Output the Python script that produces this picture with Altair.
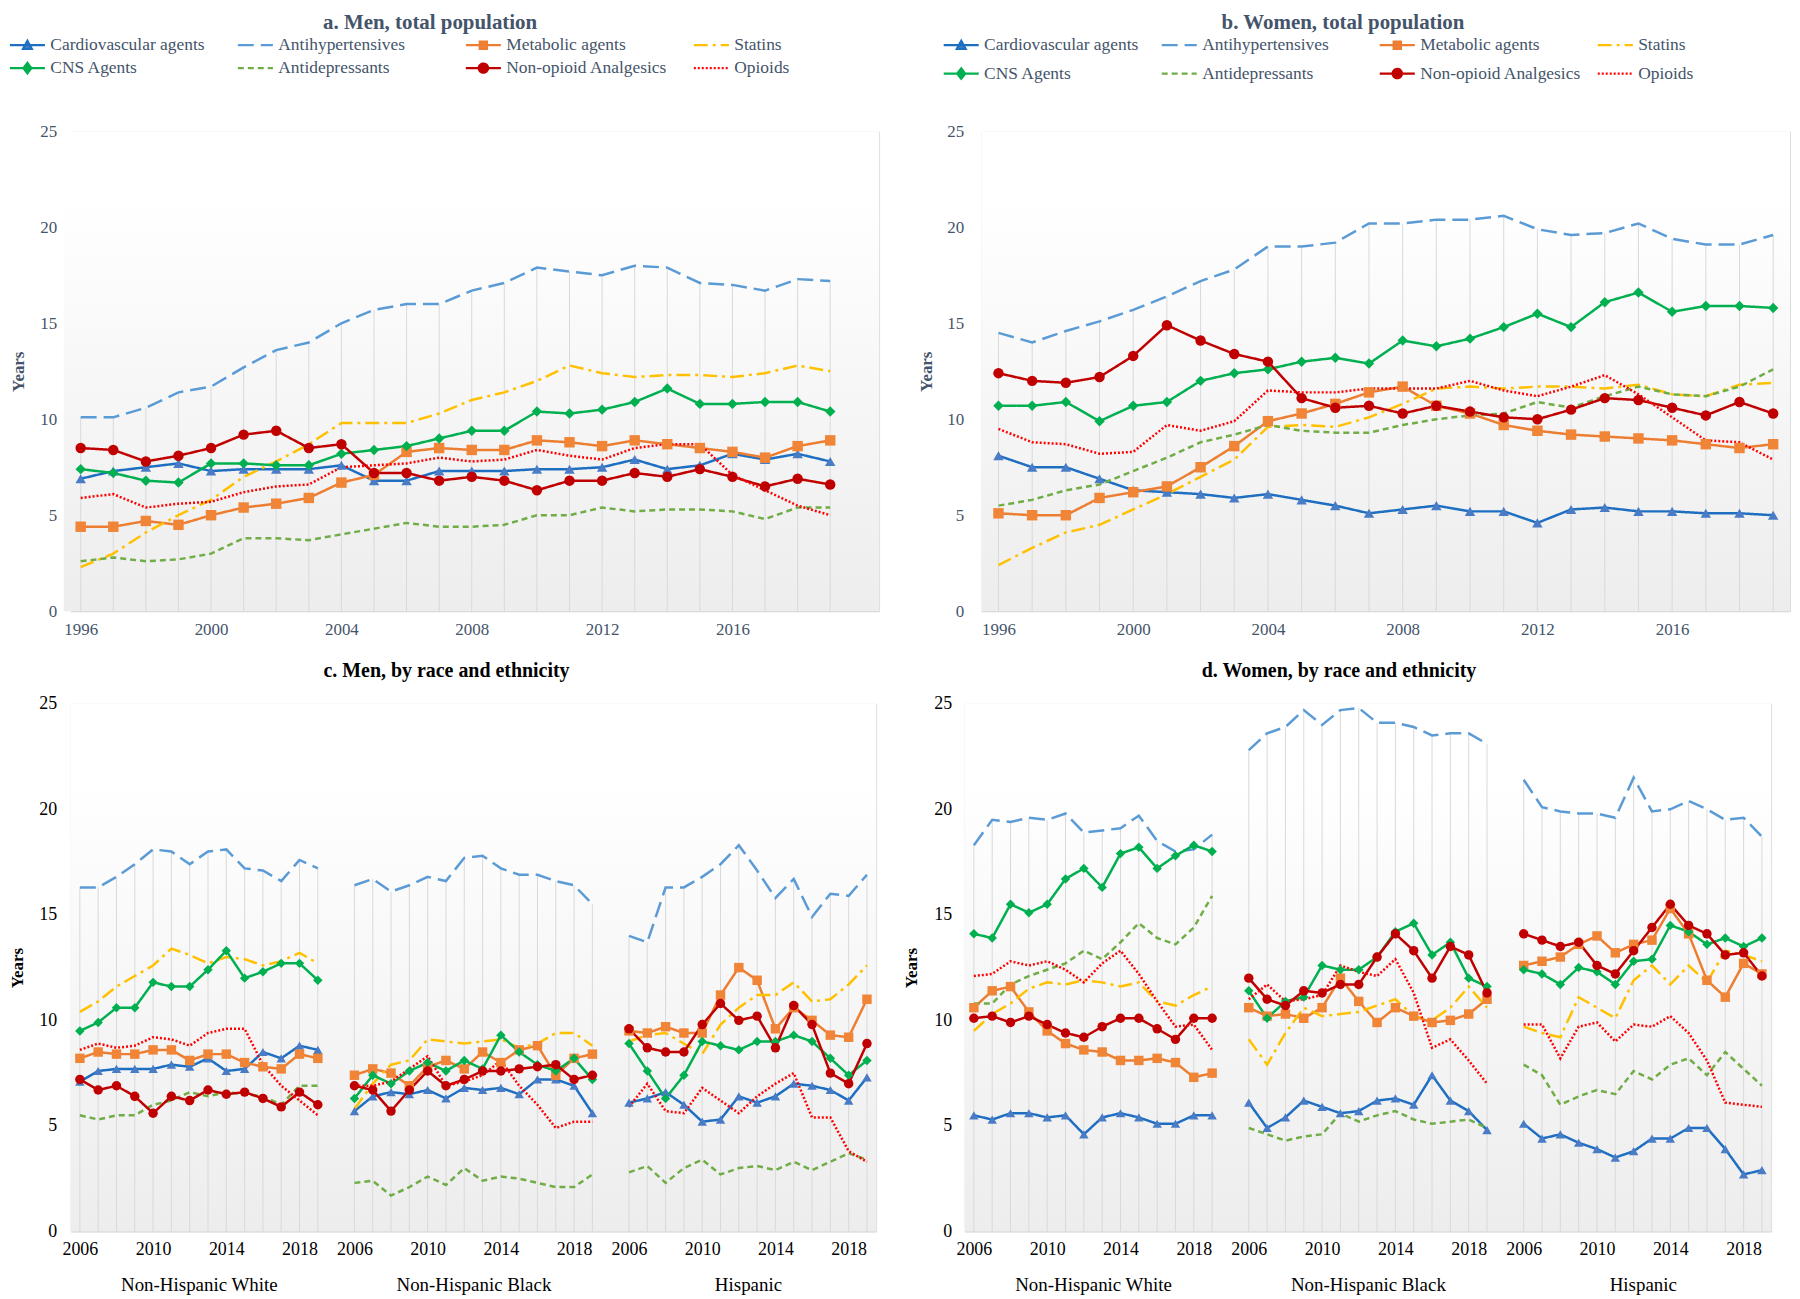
import altair as alt
import pandas as pd

FONT = "Liberation Serif"
TOP_TEXT = "#44546A"
BOTTOM_TEXT = "#000000"
DROP_COLOR = "#D9D9D9"

SERIES = ["Cardiovascular agents", "Antihypertensives", "Metabolic agents", "Statins",
          "CNS Agents", "Antidepressants", "Non-opioid Analgesics", "Opioids"]
LINE_COLORS = ["#1E6FC2", "#5B9BD5", "#ED7D31", "#FFC000", "#00B050", "#70AD47", "#C00000", "#FF0000"]
DASHES = [[1, 0], [16, 7], [1, 0], [14, 5, 3, 5], [1, 0], [6, 4], [1, 0], [2, 2]]
MARKER_SERIES = ["Cardiovascular agents", "Metabolic agents", "CNS Agents", "Non-opioid Analgesics"]
MARKER_SHAPES = ["triangle-up", "square", "diamond", "circle"]
MARKER_COLORS = ["#4A7CC6", "#F08538", "#00B050", "#C00000"]
LEGEND_LINE_PATH = "M-2.2,0H2.2"
LEGEND_MARKER_PATHS = [
    "M-0.55,0.45L0,-0.55L0.55,0.45Z",
    "M-0.45,-0.45H0.45V0.45H-0.45Z",
    "M0,-0.65L0.5,0L0,0.65L-0.5,0Z",
    "M-0.58,0A0.58,0.58 0 1,0 0.58,0A0.58,0.58 0 1,0 -0.58,0Z",
]

YEARS_TOTAL = list(range(1996, 2020))
YEARS_RACE = list(range(2006, 2020))
GROUPS = ["Non-Hispanic White", "Non-Hispanic Black", "Hispanic"]
X_TICKS_TOTAL = [1996, 2000, 2004, 2008, 2012, 2016]
X_TICKS_RACE = [2006, 2010, 2014, 2018]
Y_TICKS = [0, 5, 10, 15, 20, 25]

# ---------------- a. Men, total population (order = SERIES) ----------------
men_cv = [6.9, 7.3, 7.5, 7.7, 7.3, 7.4, 7.4, 7.4, 7.6, 6.8, 6.8, 7.3, 7.3, 7.3, 7.4, 7.4, 7.5, 7.9, 7.4, 7.6, 8.2, 7.9, 8.2, 7.8]
men_antihyp = [10.1, 10.1, 10.6, 11.4, 11.7, 12.7, 13.6, 14.0, 15.0, 15.7, 16.0, 16.0, 16.7, 17.1, 17.9, 17.7, 17.5, 18.0, 17.9, 17.1, 17.0, 16.7, 17.3, 17.2]
men_metab = [4.4, 4.4, 4.7, 4.5, 5.0, 5.4, 5.6, 5.9, 6.7, 7.1, 8.3, 8.5, 8.4, 8.4, 8.9, 8.8, 8.6, 8.9, 8.7, 8.5, 8.3, 8.0, 8.6, 8.9]
men_statins = [2.3, 3.0, 4.1, 5.0, 5.8, 7.0, 7.8, 8.7, 9.8, 9.8, 9.8, 10.3, 11.0, 11.4, 12.0, 12.8, 12.4, 12.2, 12.3, 12.3, 12.2, 12.4, 12.8, 12.5]
men_cns = [7.4, 7.2, 6.8, 6.7, 7.7, 7.7, 7.6, 7.6, 8.2, 8.4, 8.6, 9.0, 9.4, 9.4, 10.4, 10.3, 10.5, 10.9, 11.6, 10.8, 10.8, 10.9, 10.9, 10.4]
men_antidep = [2.6, 2.8, 2.6, 2.7, 3.0, 3.8, 3.8, 3.7, 4.0, 4.3, 4.6, 4.4, 4.4, 4.5, 5.0, 5.0, 5.4, 5.2, 5.3, 5.3, 5.2, 4.8, 5.4, 5.4]
men_nonop = [8.5, 8.4, 7.8, 8.1, 8.5, 9.2, 9.4, 8.5, 8.7, 7.2, 7.2, 6.8, 7.0, 6.8, 6.3, 6.8, 6.8, 7.2, 7.0, 7.4, 7.0, 6.5, 6.9, 6.6]
men_opioids = [5.9, 6.1, 5.4, 5.6, 5.7, 6.2, 6.5, 6.6, 7.5, 7.6, 7.7, 8.0, 7.8, 7.9, 8.4, 8.1, 7.9, 8.5, 8.7, 8.7, 7.1, 6.3, 5.5, 5.0]

# ---------------- b. Women, total population ----------------
wom_cv = [8.1, 7.5, 7.5, 6.9, 6.3, 6.2, 6.1, 5.9, 6.1, 5.8, 5.5, 5.1, 5.3, 5.5, 5.2, 5.2, 4.6, 5.3, 5.4, 5.2, 5.2, 5.1, 5.1, 5.0]
wom_antihyp = [14.5, 14.0, 14.6, 15.1, 15.7, 16.4, 17.2, 17.8, 19.0, 19.0, 19.2, 20.2, 20.2, 20.4, 20.4, 20.6, 19.9, 19.6, 19.7, 20.2, 19.4, 19.1, 19.1, 19.6]
wom_metab = [5.1, 5.0, 5.0, 5.9, 6.2, 6.5, 7.5, 8.6, 9.9, 10.3, 10.8, 11.4, 11.7, 10.7, 10.3, 9.7, 9.4, 9.2, 9.1, 9.0, 8.9, 8.7, 8.5, 8.7]
wom_statins = [2.4, 3.3, 4.1, 4.5, 5.3, 6.1, 7.0, 7.9, 9.6, 9.7, 9.6, 10.1, 10.8, 11.6, 11.7, 11.6, 11.7, 11.7, 11.6, 11.8, 11.3, 11.2, 11.8, 11.9]
wom_cns = [10.7, 10.7, 10.9, 9.9, 10.7, 10.9, 12.0, 12.4, 12.6, 13.0, 13.2, 12.9, 14.1, 13.8, 14.2, 14.8, 15.5, 14.8, 16.1, 16.6, 15.6, 15.9, 15.9, 15.8]
wom_antidep = [5.5, 5.8, 6.3, 6.6, 7.3, 8.0, 8.8, 9.2, 9.7, 9.4, 9.3, 9.3, 9.7, 10.0, 10.2, 10.3, 10.9, 10.6, 11.2, 11.7, 11.3, 11.2, 11.7, 12.6]
wom_nonop = [12.4, 12.0, 11.9, 12.2, 13.3, 14.9, 14.1, 13.4, 13.0, 11.1, 10.6, 10.7, 10.3, 10.7, 10.4, 10.1, 10.0, 10.5, 11.1, 11.0, 10.6, 10.2, 10.9, 10.3]
wom_opioids = [9.5, 8.8, 8.7, 8.2, 8.3, 9.7, 9.4, 9.9, 11.5, 11.4, 11.4, 11.6, 11.6, 11.6, 12.0, 11.5, 11.2, 11.7, 12.3, 11.3, 10.1, 8.9, 8.8, 7.9]

# ---------------- c. Men, by race and ethnicity (2006-2019) ----------------
men_nhw = [
    [7.1, 7.6, 7.7, 7.7, 7.7, 7.9, 7.8, 8.2, 7.6, 7.7, 8.5, 8.2, 8.8, 8.6],
    [16.3, 16.3, 16.8, 17.4, 18.1, 18.0, 17.4, 18.0, 18.1, 17.2, 17.1, 16.6, 17.6, 17.2],
    [8.2, 8.5, 8.4, 8.4, 8.6, 8.6, 8.1, 8.4, 8.4, 8.0, 7.8, 7.7, 8.4, 8.2],
    [10.4, 10.9, 11.6, 12.1, 12.6, 13.4, 13.1, 12.7, 13.0, 12.9, 12.6, 12.8, 13.2, 12.7],
    [9.5, 9.9, 10.6, 10.6, 11.8, 11.6, 11.6, 12.4, 13.3, 12.0, 12.3, 12.7, 12.7, 11.9],
    [5.5, 5.3, 5.5, 5.5, 6.0, 6.2, 6.6, 6.4, 6.6, 6.5, 6.4, 6.0, 6.9, 6.9],
    [7.2, 6.7, 6.9, 6.4, 5.6, 6.4, 6.2, 6.7, 6.5, 6.6, 6.3, 5.9, 6.6, 6.0],
    [8.6, 8.9, 8.7, 8.8, 9.2, 9.1, 8.8, 9.4, 9.6, 9.6, 7.9, 6.9, 6.2, 5.5],
]
men_nhb = [
    [5.7, 6.4, 6.6, 6.5, 6.7, 6.3, 6.8, 6.7, 6.8, 6.5, 7.2, 7.2, 6.9, 5.6],
    [16.4, 16.7, 16.1, 16.4, 16.8, 16.6, 17.7, 17.8, 17.2, 16.9, 16.9, 16.6, 16.4, 15.5],
    [7.4, 7.7, 7.5, 6.9, 7.8, 8.1, 7.7, 8.5, 8.0, 8.6, 8.8, 7.4, 8.2, 8.4],
    [5.8, 7.0, 7.9, 8.1, 9.1, 9.0, 8.9, 9.0, 9.1, 8.7, 8.9, 9.4, 9.4, 8.8],
    [6.3, 7.4, 7.0, 7.6, 8.0, 7.6, 8.1, 7.7, 9.3, 8.5, 7.9, 7.6, 8.2, 7.2],
    [2.3, 2.4, 1.7, 2.1, 2.6, 2.2, 3.0, 2.4, 2.6, 2.5, 2.3, 2.1, 2.1, 2.7],
    [6.9, 6.7, 5.7, 6.7, 7.6, 6.9, 7.2, 7.6, 7.6, 7.7, 7.8, 7.9, 7.2, 7.4],
    [6.9, 6.9, 7.1, 7.7, 8.3, 6.9, 7.1, 7.4, 8.1, 6.9, 6.0, 4.9, 5.2, 5.2],
]
men_hisp = [
    [6.1, 6.3, 6.6, 6.0, 5.2, 5.3, 6.4, 6.1, 6.4, 7.0, 6.9, 6.7, 6.2, 7.3],
    [14.0, 13.7, 16.3, 16.3, 16.8, 17.4, 18.3, 17.1, 15.8, 16.7, 14.9, 16.0, 15.9, 16.9],
    [9.5, 9.4, 9.7, 9.4, 9.4, 11.2, 12.5, 11.9, 9.6, 10.6, 10.0, 9.3, 9.2, 11.0],
    [9.0, 9.3, 9.4, 8.9, 8.4, 9.8, 10.6, 11.2, 11.2, 11.8, 10.9, 11.0, 11.7, 12.6],
    [8.9, 7.6, 6.3, 7.4, 9.0, 8.8, 8.6, 9.0, 9.0, 9.3, 9.0, 8.2, 7.4, 8.1],
    [2.8, 3.1, 2.3, 3.0, 3.4, 2.7, 3.0, 3.1, 2.9, 3.3, 2.9, 3.3, 3.7, 3.4],
    [9.6, 8.7, 8.5, 8.5, 9.8, 10.8, 10.0, 10.2, 8.7, 10.7, 9.8, 7.5, 7.0, 8.9],
    [5.9, 7.0, 5.7, 5.6, 6.8, 6.2, 5.6, 6.4, 7.0, 7.5, 5.4, 5.4, 3.8, 3.3],
]

# ---------------- d. Women, by race and ethnicity (2006-2019) ----------------
wom_nhw = [
    [5.5, 5.3, 5.6, 5.6, 5.4, 5.5, 4.6, 5.4, 5.6, 5.4, 5.1, 5.1, 5.5, 5.5],
    [18.3, 19.5, 19.4, 19.6, 19.5, 19.8, 18.9, 19.0, 19.1, 19.7, 18.5, 18.0, 18.1, 18.8],
    [10.6, 11.4, 11.6, 10.4, 9.5, 8.9, 8.6, 8.5, 8.1, 8.1, 8.2, 8.0, 7.3, 7.5],
    [9.5, 10.3, 10.8, 11.5, 11.8, 11.7, 11.9, 11.8, 11.6, 11.8, 10.9, 10.7, 11.2, 11.6],
    [14.1, 13.9, 15.5, 15.1, 15.5, 16.7, 17.2, 16.3, 17.9, 18.2, 17.2, 17.8, 18.3, 18.0],
    [10.8, 10.8, 11.7, 12.1, 12.4, 12.7, 13.3, 12.9, 13.7, 14.6, 13.9, 13.6, 14.4, 15.9],
    [10.1, 10.2, 9.9, 10.2, 9.8, 9.4, 9.2, 9.7, 10.1, 10.1, 9.6, 9.1, 10.1, 10.1],
    [12.1, 12.2, 12.8, 12.6, 12.8, 12.4, 11.8, 12.7, 13.3, 12.2, 10.9, 9.7, 9.8, 8.6],
]
wom_nhb = [
    [6.1, 4.9, 5.4, 6.2, 5.9, 5.6, 5.7, 6.2, 6.3, 6.0, 7.4, 6.2, 5.7, 4.8],
    [22.8, 23.6, 23.9, 24.7, 24.0, 24.7, 24.8, 24.1, 24.1, 23.9, 23.5, 23.6, 23.6, 23.1],
    [10.6, 10.2, 10.3, 10.1, 10.6, 12.0, 10.9, 9.9, 10.6, 10.2, 9.9, 10.0, 10.3, 11.0],
    [9.1, 7.9, 9.4, 10.6, 10.2, 10.3, 10.4, 10.7, 11.0, 10.2, 10.0, 10.6, 11.6, 10.6],
    [11.4, 10.1, 10.9, 11.1, 12.6, 12.4, 12.4, 13.0, 14.2, 14.6, 13.1, 13.7, 12.0, 11.6],
    [4.9, 4.6, 4.3, 4.5, 4.6, 5.6, 5.2, 5.5, 5.7, 5.3, 5.1, 5.2, 5.3, 4.9],
    [12.0, 11.0, 10.7, 11.4, 11.3, 11.7, 11.7, 13.0, 14.1, 13.3, 12.0, 13.5, 13.1, 11.3],
    [11.0, 11.7, 10.9, 11.0, 11.2, 12.6, 12.3, 12.1, 12.9, 11.3, 8.7, 9.1, 8.1, 7.0],
]
wom_hisp = [
    [5.1, 4.4, 4.6, 4.2, 3.9, 3.5, 3.8, 4.4, 4.4, 4.9, 4.9, 3.9, 2.7, 2.9],
    [21.4, 20.1, 19.9, 19.8, 19.8, 19.6, 21.5, 19.9, 20.0, 20.4, 20.0, 19.5, 19.6, 18.7],
    [12.6, 12.8, 13.0, 13.6, 14.0, 13.2, 13.6, 13.8, 15.3, 14.1, 11.9, 11.1, 12.7, 12.2],
    [9.7, 9.4, 9.2, 11.1, 10.6, 10.1, 11.9, 12.6, 11.7, 12.6, 11.8, 13.3, 13.1, 12.8],
    [12.4, 12.2, 11.7, 12.5, 12.3, 11.7, 12.8, 12.9, 14.5, 14.2, 13.6, 13.9, 13.5, 13.9],
    [7.9, 7.4, 6.0, 6.4, 6.7, 6.5, 7.6, 7.2, 7.9, 8.2, 7.4, 8.5, 7.7, 6.9],
    [14.1, 13.8, 13.5, 13.7, 12.6, 12.2, 13.3, 14.4, 15.5, 14.5, 14.1, 13.1, 13.2, 12.1],
    [9.8, 9.8, 8.2, 9.7, 9.9, 9.0, 9.8, 9.7, 10.2, 9.4, 8.1, 6.1, 6.0, 5.9],
]

# ---------------- build tables ----------------
def total_frame(series_values):
    rows = []
    for s, vals in zip(SERIES, series_values):
        for y, v in zip(YEARS_TOTAL, vals):
            rows.append({"year": y, "series": s, "value": v})
    return pd.DataFrame(rows)


GAP = len(YEARS_RACE) + 1  # one empty category between groups


def race_frame(groups_values):
    rows = []
    for gi, series_values in enumerate(groups_values):
        for s, vals in zip(SERIES, series_values):
            for y, v in zip(YEARS_RACE, vals):
                rows.append({"group": GROUPS[gi], "pos": gi * GAP + (y - YEARS_RACE[0]),
                             "year": y, "series": s, "value": v})
    return pd.DataFrame(rows)


df_a = total_frame([men_cv, men_antihyp, men_metab, men_statins, men_cns, men_antidep, men_nonop, men_opioids])
df_b = total_frame([wom_cv, wom_antihyp, wom_metab, wom_statins, wom_cns, wom_antidep, wom_nonop, wom_opioids])
df_c = race_frame([men_nhw, men_nhb, men_hisp])
df_d = race_frame([wom_nhw, wom_nhb, wom_hisp])

GRAD = alt.LinearGradient(
    gradient="linear", x1=0, x2=0, y1=0, y2=1,
    stops=[alt.GradientStop(color="#FFFFFF", offset=0),
           alt.GradientStop(color="#FFFFFF", offset=0.14),
           alt.GradientStop(color="#EDEDED", offset=1)])

# legend symbol paths / fills, one per series
legend_paths = []
legend_fills = []
for s in SERIES:
    if s in MARKER_SERIES:
        i = MARKER_SERIES.index(s)
        legend_paths.append(LEGEND_LINE_PATH + LEGEND_MARKER_PATHS[i])
        legend_fills.append(MARKER_COLORS[i])
    else:
        legend_paths.append(LEGEND_LINE_PATH)
        legend_fills.append("transparent")

Y_SCALE = alt.Scale(domain=[0, 25], nice=False, zero=True)
COLOR_SCALE = alt.Scale(domain=SERIES, range=LINE_COLORS)
DASH_SCALE = alt.Scale(domain=SERIES, range=DASHES)
LEG_SHAPE_SCALE = alt.Scale(domain=SERIES, range=legend_paths)
LEG_FILL_SCALE = alt.Scale(domain=SERIES, range=legend_fills)


def make_legend(lx, ly, colpad, rowpad):
    return alt.Legend(
        orient="none", legendX=lx, legendY=ly, columns=4, direction="horizontal", gridAlign="all",
        columnPadding=colpad, rowPadding=rowpad, padding=0, title=None,
        symbolSize=256, symbolStrokeWidth=2.25, symbolOpacity=1, labelOffset=13.5,
        labelFont=FONT, labelFontSize=17.5, labelColor=TOP_TEXT, labelLimit=400)


def y_axis(color, fs, tpad, lpad):
    return alt.Axis(values=Y_TICKS, title="Years", grid=False, ticks=False, domain=False,
                    labelFont=FONT, labelFontSize=fs, labelColor=color, labelPadding=lpad,
                    titleFont=FONT, titleFontSize=17, titleFontWeight="bold", titleColor=color,
                    titlePadding=tpad)


def marker_layers(base, X, Y, size):
    out = []
    for s, shp, c in zip(MARKER_SERIES, MARKER_SHAPES, MARKER_COLORS):
        out.append(base.transform_filter(alt.datum.series == s).mark_point(
            shape=shp, filled=True, color=c, opacity=1, size=size, strokeWidth=0).encode(x=X, y=Y))
    return out


def top_panel(df, title, title_dx, width, height, x_domain, legend, tpad, lpad, bg_left=0):
    xs = alt.Scale(domain=x_domain, nice=False, zero=False)
    xax = alt.Axis(values=X_TICKS_TOTAL, format="d", title=None, grid=False, ticks=False,
                   domainColor=DROP_COLOR, domainWidth=1, labelFont=FONT, labelFontSize=17,
                   labelColor=TOP_TEXT, labelPadding=10, zindex=1, orient="bottom")
    yax = y_axis(TOP_TEXT, 17, tpad, lpad)
    X = alt.X("year:Q", scale=xs, axis=xax)
    Y = alt.Y("value:Q", scale=Y_SCALE, axis=yax)
    base = alt.Chart(df)
    bg = alt.Chart(pd.DataFrame({"k": [0]})).mark_rect(fill=GRAD).encode(
        x=alt.value(bg_left), x2=alt.value(width), y=alt.value(0), y2=alt.value(height))
    drops = base.transform_aggregate(top="max(value)", groupby=["year"]).transform_calculate(
        zero="0").mark_rule(color=DROP_COLOR, strokeWidth=1).encode(
        x=X, y=alt.Y("top:Q", scale=Y_SCALE, axis=yax), y2="zero:Q")
    lines = base.mark_line(strokeWidth=2.5).encode(
        x=X, y=Y,
        stroke=alt.Stroke("series:N", scale=COLOR_SCALE, legend=legend),
        strokeDash=alt.StrokeDash("series:N", scale=DASH_SCALE, legend=legend))
    # invisible carrier whose merged legend draws line+marker symbols
    carrier = base.mark_point(filled=False, opacity=0, size=256, strokeWidth=2.25).encode(
        x=X, y=Y,
        stroke=alt.Stroke("series:N", scale=COLOR_SCALE, legend=legend),
        fill=alt.Fill("series:N", scale=LEG_FILL_SCALE, legend=legend),
        shape=alt.Shape("series:N", scale=LEG_SHAPE_SCALE, legend=legend),
        strokeDash=alt.StrokeDash("series:N", scale=DASH_SCALE, legend=legend))
    layers = [bg, drops, lines] + marker_layers(base, X, Y, 110) + [carrier]
    return alt.layer(*layers).properties(
        width=width, height=height,
        title=alt.TitleParams(text=title, font=FONT, fontSize=21, fontWeight="bold", color=TOP_TEXT,
                              anchor="middle", frame="group", dx=title_dx, offset=2))


def race_panel(df, title, title_dx, width, height, tpad, lpad):
    npos = GAP * (len(GROUPS) - 1) + len(YEARS_RACE)
    xs = alt.Scale(domain=[-0.5, npos - 0.5], nice=False, zero=False)
    tick_pos = [gi * GAP + (y - YEARS_RACE[0]) for gi in range(len(GROUPS)) for y in X_TICKS_RACE]
    year_axis = alt.Axis(values=tick_pos, labelExpr=f"'' + ({YEARS_RACE[0]} + (datum.value % {GAP}))",
                         title=None, grid=False, ticks=False, domainColor=DROP_COLOR, domainWidth=1,
                         labelFont=FONT, labelFontSize=18, labelColor=BOTTOM_TEXT, labelPadding=9,
                         zindex=1, orient="bottom")
    centers = [gi * GAP + (len(YEARS_RACE) - 1) / 2 for gi in range(len(GROUPS))]
    grp_expr = ""
    for gi, g in enumerate(GROUPS[:-1]):
        grp_expr += f"datum.value < {centers[gi] + GAP / 2} ? '{g}' : "
    grp_expr += f"'{GROUPS[-1]}'"
    group_axis = alt.Axis(values=centers, labelExpr=grp_expr, title=None, grid=False, ticks=False,
                          domain=False, labelFont=FONT, labelFontSize=19, labelColor=BOTTOM_TEXT,
                          labelPadding=44, orient="bottom")
    yax = y_axis(BOTTOM_TEXT, 18, tpad, lpad)
    Y = alt.Y("value:Q", scale=Y_SCALE, axis=yax)
    base = alt.Chart(df)
    bg = alt.Chart(pd.DataFrame({"k": [0]})).mark_rect(fill=GRAD).encode(
        x=alt.value(0), x2=alt.value(width), y=alt.value(0), y2=alt.value(height))
    drops = base.transform_aggregate(top="max(value)", groupby=["pos"]).transform_calculate(
        zero="0").mark_rule(color=DROP_COLOR, strokeWidth=1).encode(
        x=alt.X("pos:Q", scale=xs, axis=group_axis),
        y=alt.Y("top:Q", scale=Y_SCALE, axis=yax), y2="zero:Q")
    lines = base.mark_line(strokeWidth=2.5).encode(
        x=alt.X("pos:Q", scale=xs, axis=year_axis), y=Y,
        color=alt.Color("series:N", scale=COLOR_SCALE, legend=None),
        strokeDash=alt.StrokeDash("series:N", scale=DASH_SCALE, legend=None),
        detail="group:N")
    Xn = alt.X("pos:Q", scale=xs, axis=None)
    layers = [bg, drops, lines] + marker_layers(base, Xn, Y, 90)
    return alt.layer(*layers).resolve_axis(x="independent").properties(
        width=width, height=height,
        title=alt.TitleParams(text=title, font=FONT, fontSize=20, fontWeight="bold", color=BOTTOM_TEXT,
                              anchor="middle", frame="group", dx=title_dx, offset=14))


pa = top_panel(df_a, "a. Men, total population", -45, 812, 482, [1995.694, 2020.5],
               make_legend(-53, -97, 21, 3), 12, 14, bg_left=-7)
pb = top_panel(df_b, "b. Women, total population", -43, 812, 482, [1995.5, 2019.5],
               make_legend(-30, -97, 11, 8.5), 11, 18)
pc = race_panel(df_c, "c. Men, by race and ethnicity", -27, 809, 530, 12, 14)
pd_ = race_panel(df_d, "d. Women, by race and ethnicity", -29, 810, 530, 13, 13)

IND = dict(stroke="independent", fill="independent", shape="independent",
           strokeDash="independent", color="independent")

row1 = alt.hconcat(pa, pb, spacing=37).resolve_scale(**IND).resolve_legend(**IND)
row2 = alt.hconcat(pc, pd_, spacing=25).resolve_scale(**IND).resolve_legend(**IND)

chart = alt.vconcat(row1, row2, spacing=22).resolve_scale(**IND).resolve_legend(**IND).properties(
    padding=0).configure_view(strokeOpacity=0).configure(font=FONT, padding=0)

chart.save("out.html", embed_options={"renderer": "svg", "actions": False})
